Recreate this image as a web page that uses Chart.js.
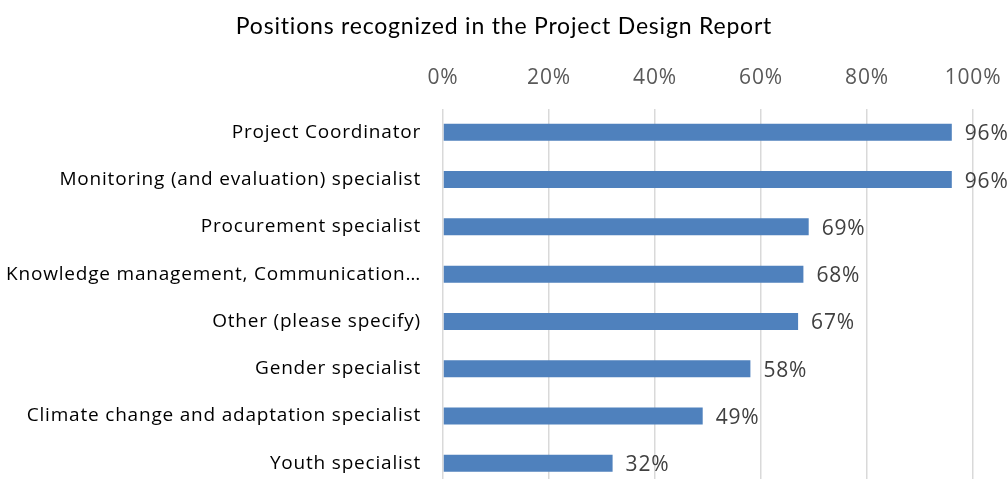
<!DOCTYPE html>
<html>
<head>
<meta charset="utf-8">
<script src="https://cdn.jsdelivr.net/npm/chart.js"></script>
<style>
html,body{margin:0;padding:0;background:#fff;overflow:hidden;}
canvas{display:block;}
</style>
</head>
<body>
<canvas id="chart" width="1008" height="487"></canvas>
<script>
// data
const categories = ["Project Coordinator","Monitoring (and evaluation) specialist","Procurement specialist","Knowledge management, Communication\u2026","Other (please specify)","Gender specialist","Climate change and adaptation specialist","Youth specialist"];
const shares = [96,96,69,68,67,58,49,32];
const xTicks = [0,20,40,60,80,100];

const FONT = "'Open Sans', sans-serif";

// a bit of letter spacing like the original rendering
const spacing = {
id:"spacing",
beforeDraw(chart){ chart.ctx.letterSpacing = "0.8px"; }
};

// value labels at bar ends
const barLabels = {
id:"barLabels",
afterDatasetsDraw(chart){
const c = chart.ctx;
const meta = chart.getDatasetMeta(0);
c.save();
c.font = "21px " + FONT;
c.fillStyle = "#404040";
c.textAlign = "left";
c.textBaseline = "middle";
meta.data.forEach((bar,i)=>{
c.fillText(shares[i] + "%", bar.x + 13, bar.y + 2);
});
c.restore();
}
};

new Chart(document.getElementById("chart"),{
type:"bar",
data:{
labels:categories,
datasets:[{data:shares,backgroundColor:"#4F81BD",barPercentage:0.36,categoryPercentage:1}]
},
options:{
indexAxis:"y",
responsive:false,
animation:false,
layout:{padding:0},
plugins:{
legend:{display:false},
tooltip:{enabled:false},
title:{display:true,text:"Positions recognized in the Project Design Report",color:"#000",
font:{family:"Lato, sans-serif",size:23,weight:"normal"},padding:{top:13,bottom:0}}
},
scales:{
x:{position:"top",min:0,max:100,
afterBuildTicks:s=>{s.ticks = xTicks.map(v=>({value:v}));},
afterFit:s=>{s.height = 68; s.paddingRight = 35; s.paddingLeft = 0; s.paddingTop = 0; s.paddingBottom = 0;},
ticks:{callback:v=>v+"%",color:"#595959",font:{family:FONT,size:21},padding:18},
grid:{color:"#d9d9d9",lineWidth:1.5,drawTicks:false},
border:{display:false}
},
y:{
afterFit:s=>{s.width = 443; s.paddingTop = 0; s.paddingBottom = 0;},
ticks:{color:"#000",font:{family:FONT,size:19},padding:22},
grid:{display:false,drawTicks:false},
border:{display:false}
}
}
},
plugins:[spacing,barLabels]
});
</script>
</body>
</html>
